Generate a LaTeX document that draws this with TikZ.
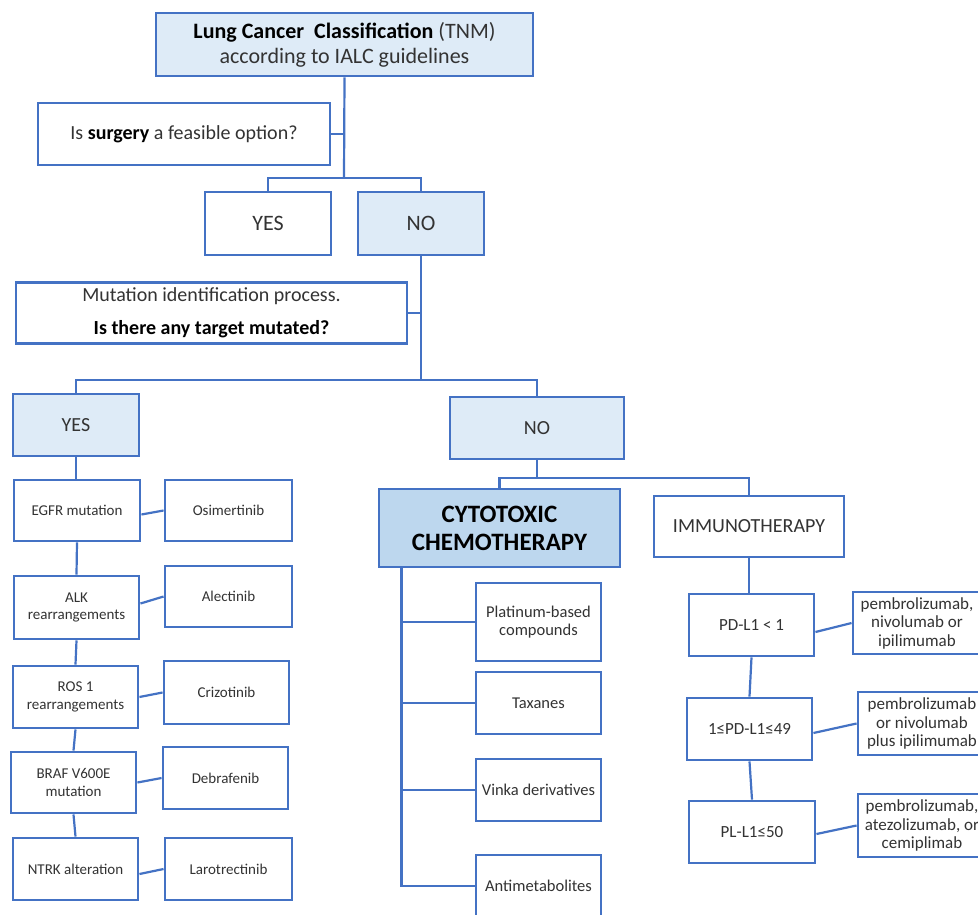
\documentclass[tikz,border=0pt]{standalone}
\usepackage{fontspec}
\setmainfont{Carlito}
\definecolor{bblue}{HTML}{4472C4}
\definecolor{lfill}{HTML}{DEEBF7}
\definecolor{mfill}{HTML}{BDD7EE}
\definecolor{txt}{HTML}{333333}
\begin{document}
\begin{tikzpicture}[x=1pt,y=-1pt,
  every node/.style={align=center, text=txt, inner sep=1pt},
  box/.style={draw=bblue, line width=2.9pt, fill=white},
  lbox/.style={box, fill=lfill},
  mbox/.style={box, fill=mfill},
  conn/.style={draw=bblue, line width=2.2pt},
  wh/.style 2 args={minimum width=#1, minimum height=#2},
  fs/.style 2 args={font=\fontsize{#1}{#2}\selectfont}]
\useasboundingbox (0,0) rectangle (978,914);
\clip (0,0) rectangle (978,914);
\fill[white] (0,0) rectangle (978,914);

% top
\node[lbox, wh={377pt}{63pt}, fs={22}{25}] (title) at (344.5,44.5)
  {\textbf{\color{black}Lung Cancer\ \ Classification} (TNM)\\according to IALC guidelines};
\node[box, wh={292pt}{62pt}, fs={20}{24}] (surg) at (184,134)
  {Is \textbf{\color{black}surgery} a feasible option?};
\node[box, wh={126pt}{63pt}, fs={22}{26}] (yes1) at (268,223.5) {YES};
\node[lbox, wh={126pt}{63pt}, fs={22}{26}] (no1) at (421,223.5) {NO};
\node[box, wh={391pt}{61pt}, fs={20}{33}] (mut) at (211.5,313)
  {Mutation identification process.\\\textbf{\color{black}Is there any target mutated?}};
\node[lbox, wh={126pt}{62pt}, fs={20}{24}] (yes2) at (76,425) {YES};
\node[lbox, wh={174pt}{62pt}, fs={20}{24}] (no2) at (537,428) {NO};

% left column
\begin{scope}[every node/.append style={fs={15}{17.5}}]
\node[box, wh={126pt}{61pt}] (egfr) at (77,510.5) {EGFR mutation};
\node[box, wh={127pt}{61pt}] (osim) at (228.5,510.5) {Osimertinib};
\node[box, wh={125pt}{63pt}] (alk) at (76.5,607.5) {ALK\\rearrangements};
\node[box, wh={127pt}{61pt}] (alec) at (228.5,596.5) {Alectinib};
\node[box, wh={125pt}{62pt}] (ros) at (75.5,697) {ROS 1\\rearrangements};
\node[box, wh={125pt}{63pt}] (criz) at (226.5,692.5) {Crizotinib};
\node[box, wh={125pt}{61pt}] (braf) at (73.5,782.5) {BRAF V600E\\mutation};
\node[box, wh={125pt}{62pt}] (debr) at (225.5,778) {Debrafenib};
\node[box, wh={125pt}{62pt}] (ntrk) at (75.5,869) {NTRK alteration};
\node[box, wh={127pt}{62pt}] (laro) at (228.5,869) {Larotrectinib};
\end{scope}

% chemotherapy
\node[mbox, wh={241pt}{78pt}, fs={25}{28}] (cyto) at (499.5,528)
  {\textbf{\color{black}CYTOTOXIC}\\\textbf{\color{black}CHEMOTHERAPY}};
\begin{scope}[every node/.append style={fs={16.5}{18.5}}]
\node[box, wh={125pt}{78pt}] (plat) at (538.5,622) {Platinum-based\\compounds};
\node[box, wh={125pt}{62pt}] (taxa) at (538.5,703) {Taxanes};
\node[box, wh={125pt}{62pt}] (vink) at (538.5,790) {Vinka derivatives};
\node[box, wh={125pt}{62pt}] (anti) at (538.5,886) {Antimetabolites};
\end{scope}

% immunotherapy
\node[box, wh={190pt}{61pt}, fs={20}{24}] (immu) at (749,526.5) {IMMUNOTHERAPY};
\begin{scope}[every node/.append style={fs={17}{18.5}}]
\node[box, wh={125pt}{62pt}] (pd1) at (751.5,625) {PD-L1 < 1};
\node[box, wh={125pt}{62pt}] (pd2) at (749.5,729) {1≤PD-L1≤49};
\node[box, wh={126pt}{62pt}] (pd3) at (752,832) {PL-L1≤50};
\node[box, wh={128pt}{62pt}] (pem1) at (917,623) {pembrolizumab,\\nivolumab or\\ipilimumab};
\node[box, wh={128pt}{63pt}] (pem2) at (922,723.5) {pembrolizumab\\or nivolumab\\plus ipilimumab};
\node[box, wh={128pt}{63pt}] (pem3) at (922,825.5) {pembrolizumab,\\atezolizumab, or\\cemiplimab};
\end{scope}

% connectors
\coordinate (j1) at (344,178);
\draw[conn] (title.south) -- (j1);
\draw[conn] (surg.east) -- (surg.east -| j1);
\draw[conn] (yes1.north) |- (j1) -| (no1.north);

\coordinate (j2) at (421,380);
\draw[conn] (no1.south) -- (j2);
\draw[conn] (mut.east) -- (mut.east -| j2);
\draw[conn] (yes2.north) |- (j2) -| (no2.north);

\draw[conn] (yes2.south) -- (yes2.south |- egfr.north);
\draw[conn] (egfr.south) -- (alk.north);
\draw[conn] (alk.south) -- (ros.north);
\draw[conn] (ros.south) -- (braf.north);
\draw[conn] (braf.south) -- (ntrk.north);
\draw[conn] ([yshift=-4pt]egfr.east) -- (osim.west);
\draw[conn] ([yshift=4pt]alk.east) -- (alec.west);
\draw[conn] (ros.east) -- (criz.west);
\draw[conn] (braf.east) -- (debr.west);
\draw[conn] ([yshift=-5pt]ntrk.east) -- (laro.west);

\coordinate (j3) at (537,478);
\draw[conn] (no2.south) -- (j3);
\draw[conn] (cyto.north) |- (j3) -| (immu.north);
\coordinate (cs) at ([xshift=24pt]cyto.south west);
\draw[conn] (cs) |- (anti.west);
\draw[conn] (plat.west) -- (plat.west -| cs);
\draw[conn] (taxa.west) -- (taxa.west -| cs);
\draw[conn] (vink.west) -- (vink.west -| cs);

\draw[conn] (immu.south) -- (immu.south |- pd1.north);
\draw[conn] (pd1.south) -- (pd2.north);
\draw[conn] (pd2.south) -- (pd3.north);
\draw[conn] ([yshift=-7pt]pd1.east) -- (pem1.west);
\draw[conn] ([yshift=-4pt]pd2.east) -- (pem2.west);
\draw[conn] ([yshift=-2pt]pd3.east) -- (pem3.west);
\end{tikzpicture}
\end{document}
